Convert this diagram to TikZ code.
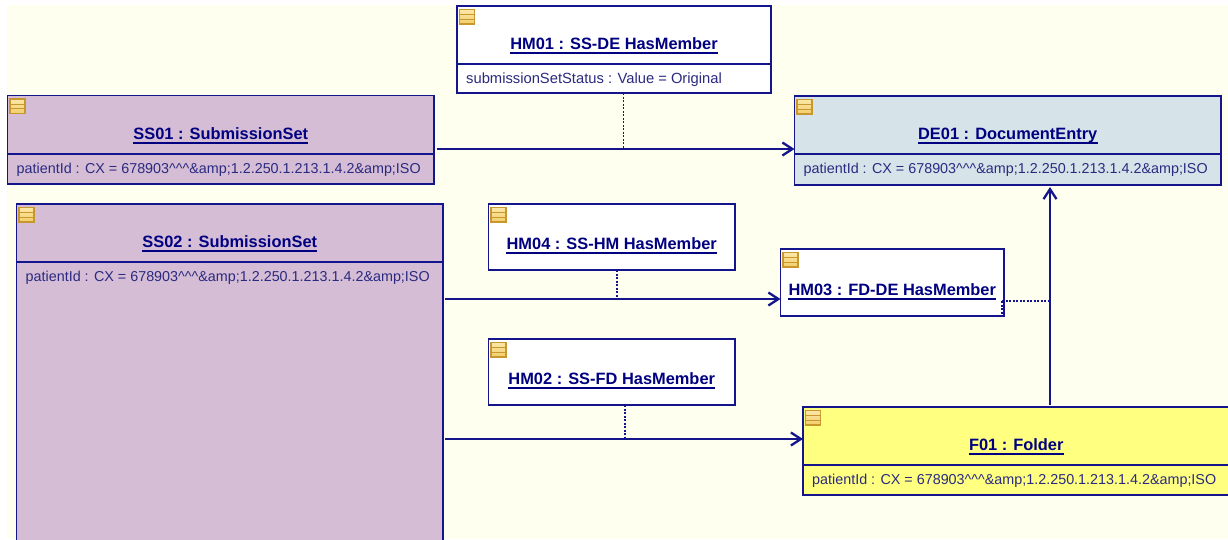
\documentclass[tikz,border=0pt]{standalone}
\usepackage{fontspec}
\setmainfont{Liberation Sans}
\usetikzlibrary{arrows.meta,calc,shadows}
\definecolor{navyline}{HTML}{14148C}
\definecolor{navytext}{HTML}{000080}
\definecolor{attrtext}{HTML}{2A2A80}
\definecolor{canvas}{HTML}{FFFFF0}
\definecolor{ssfill}{HTML}{D6BDD6}
\definecolor{defill}{HTML}{D6E4EA}
\definecolor{fdfill}{HTML}{FFFF80}
\definecolor{icongold}{HTML}{C8982E}
\definecolor{icontop}{HTML}{FBE7A8}
\definecolor{iconbot}{HTML}{F2CE6A}
\newcommand\pidtext{patientId : CX = 678903\textasciicircum\textasciicircum\textasciicircum\&amp;1.2.250.1.213.1.4.2\&amp;ISO}
\tikzset{
  objbox/.style={draw=navyline,line width=1.3pt,outer sep=0pt,inner sep=0pt,anchor=north west,
    drop shadow={shadow xshift=1.2pt,shadow yshift=-1.2pt,fill=black!45,opacity=.6}},
  objtitle/.style={font=\fontsize{16.4}{19}\selectfont\bfseries,text=navytext,inner sep=0pt,anchor=base},
  objattr/.style={font=\fontsize{14.35}{17}\selectfont,text=attrtext,inner sep=0pt,anchor=base west},
  titlerule/.style={draw=navytext,line width=1.5pt},
  seprule/.style={draw=navyline,line width=1.1pt},
  assoc/.style={draw=navyline,line width=2.3pt,-{Straight Barb[length=10pt,width=13pt,line width=2.3pt]}},
  linkdash/.style={draw=navyline,line width=1.15pt,dash pattern=on 2.2pt off 1.3pt},
  iconbox/.style={draw=icongold,line width=1.1pt,top color=icontop,bottom color=iconbot},
  iconrule/.style={draw=icongold,line width=.8pt}
}
% name, x0, y0, x1, y1, fill
\newcommand\objcore[6]{%
  \pgfmathsetmacro\bw{#4-#2}\pgfmathsetmacro\bh{#5-#3}%
  \node[objbox,fill=#6,minimum width=\bw pt,minimum height=\bh pt] (#1) at (#2,-#3) {};
  \draw[iconbox] ($(#1.north west)+(2.5,-3.5)$) rectangle ($(#1.north west)+(17.5,-18)$);
  \draw[iconrule] ($(#1.north west)+(2.5,-8.5)$) -- ($(#1.north west)+(17.5,-8.5)$);
  \draw[iconrule] ($(#1.north west)+(2.5,-13)$) -- ($(#1.north west)+(17.5,-13)$);
}
% name, title, title baseline y
\newcommand\objname[3]{%
  \node[objtitle] (#1-title) at (#1.north |- 0,-#3) {#2};
  \draw[titlerule] ([yshift=-3.4pt]#1-title.base west) -- ([yshift=-3.4pt]#1-title.base east);
}
% name, y of separator, attribute text
\newcommand\objslot[3]{%
  \draw[seprule] (#1.west |- 0,-#2) -- (#1.east |- 0,-#2);
  \node[objattr] (#1-attr) at ($(#1.west |- 0,-#2)+(9,-19)$) {#3};
}
\begin{document}
\begin{tikzpicture}[x=1pt,y=1pt]
\useasboundingbox (0,0) rectangle (1228,-539);
\clip (0,0) rectangle (1228,-539);
\fill[canvas] (7,-5) rectangle (1228,-539);

\objcore{ss01}{7.5}{95.5}{434}{184}{ssfill}
\objname{ss01}{SS01 : SubmissionSet}{139.5}
\objslot{ss01}{154}{\pidtext}

\objcore{ss02}{16.5}{204}{443}{620}{ssfill}
\objname{ss02}{SS02 : SubmissionSet}{247.5}
\objslot{ss02}{262}{\pidtext}

\objcore{hm01}{457}{6}{771}{93}{white}
\objname{hm01}{HM01 : SS-DE HasMember}{49.5}
\objslot{hm01}{64}{\fontsize{14.75}{17}\selectfont submissionSetStatus : Value = Original}

\objcore{de01}{794.5}{96}{1221}{185}{defill}
\objname{de01}{DE01 : DocumentEntry}{139.5}
\objslot{de01}{154}{\pidtext}

\objcore{hm04}{488.5}{204}{735}{270}{white}
\objname{hm04}{HM04 : SS-HM HasMember}{249.5}

\objcore{hm03}{780.5}{249}{1004}{316}{white}
\objname{hm03}{HM03 : FD-DE HasMember}{295.5}

\objcore{hm02}{488.5}{339}{735}{405}{white}
\objname{hm02}{HM02 : SS-FD HasMember}{384.5}

\objcore{f01}{803}{407}{1229.5}{495}{fdfill}
\objname{f01}{F01 : Folder}{450.5}
\objslot{f01}{465}{\pidtext}

% associations
\draw[assoc] (ss01.east |- 0,-149) ++(2.5,0) coordinate (j1s) -- (de01.west |- j1s);
\draw[assoc] (ss02.east |- 0,-299) ++(2,0) coordinate (j2s) -- (hm03.west |- j2s);
\draw[assoc] (ss02.east |- 0,-439) ++(2,0) coordinate (j3s) -- (f01.west |- j3s);
\draw[assoc] (1050,-405) coordinate (j4s) -- ([yshift=-2pt]de01.south -| j4s);

% links from association objects
\draw[linkdash] (hm01.south -| 623.5,0) -- (623.5,0 |- j1s);
\draw[linkdash] (hm04.south -| 617,0) -- (617,0 |- j2s);
\draw[linkdash] (hm02.south -| 625,0) -- (625,0 |- j3s);
\draw[linkdash] (hm03.east |- 0,-301) ++(-2,0) coordinate (j5s) -- (j4s |- j5s);
\draw[linkdash] (j5s) -- (j5s |- hm03.south) -- (hm03.south east);
\end{tikzpicture}
\end{document}
